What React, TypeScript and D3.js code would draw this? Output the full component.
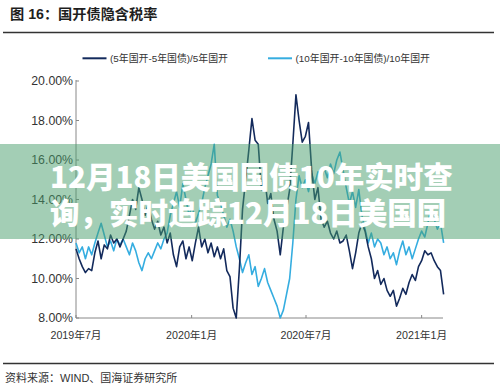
import React from "react";
import * as d3 from "d3";

const title = "图 16：国开债隐含税率";
const source = "资料来源：WIND、国海证券研究所";
const seriesNames = ["(5年国开-5年国债)/5年国开", "(10年国开-10年国债)/10年国开"];
const seriesColors = ["#132a5c", "#35ade0"];
const yTicks = [8, 10, 12, 14, 16, 18, 20];
const xTickDates = ["2019-07-01", "2020-01-01", "2020-07-01", "2021-01-01"];
const xTickLabels = ["2019年7月", "2020年1月", "2020年7月", "2021年1月"];
const startDate = "2019-07-01";
const endDate = "2021-02-04";
const stepDays = 5;
const bannerLines = ["12月18日美国国债10年实时查", "询，实时追踪12月18日美国国"];

// (5年国开-5年国债)/5年国开, %
const series5y = [
  11.5, 11.0, 10.6, 10.3, 10.5, 10.4, 11.3, 11.9, 11.0, 11.7,
  11.5, 12.2, 11.8, 12.0, 11.6, 12.0, 12.4, 13.2, 14.0, 13.5,
  14.6, 14.0, 13.2, 13.8, 13.0, 12.5, 12.9, 12.2, 12.6, 11.8,
  12.3, 11.2, 10.6, 11.6, 11.9, 11.0, 11.6, 10.9, 11.8, 12.6,
  11.6, 12.0, 11.3, 11.8, 11.1, 11.6, 11.0, 11.5, 10.4, 10.1,
  8.5, 8.0, 10.5, 13.5, 15.0, 16.5, 18.1, 17.0, 16.8, 14.5,
  15.2, 13.8, 14.3, 13.0, 12.4, 11.2, 12.6, 13.5, 14.5, 16.8,
  19.3, 18.0, 16.9, 17.2, 17.9, 15.5, 14.0, 14.6, 13.0, 12.6,
  12.9, 12.3, 12.0, 12.4, 11.8, 11.9, 12.2, 11.4, 10.5, 11.3,
  12.3, 12.8, 12.4, 11.6, 11.0, 10.0, 10.4, 9.7, 10.0, 9.4,
  9.1, 9.4, 8.6, 9.0, 9.5, 9.2, 9.8, 10.2, 9.9, 10.6,
  10.9, 11.4, 11.2, 11.3, 10.9, 10.6, 10.4, 9.2,
];

// (10年国开-10年国债)/10年国开, %
const series10y = [
  11.8, 11.3, 11.6, 11.0, 11.6, 11.2, 11.8, 12.3, 12.8, 12.2,
  11.6, 11.9, 11.4, 12.0, 11.7, 12.0, 11.6, 11.2, 11.8, 11.4,
  10.8, 10.4, 11.0, 11.3, 11.0, 11.4, 11.8, 11.5, 12.0, 12.3,
  13.2, 13.8, 14.4, 13.6, 14.8, 14.0, 13.2, 13.7, 12.8, 13.3,
  13.8, 14.6, 15.2, 15.8, 16.8, 14.2, 13.8, 13.2, 12.6, 13.0,
  12.4, 11.6, 11.0, 10.3, 10.8, 11.2, 10.2, 10.6, 9.6, 10.0,
  10.5, 9.8, 9.4, 9.0, 8.6, 8.0, 8.4, 9.2, 10.0, 11.8,
  14.0, 15.2, 14.6, 15.0, 14.4, 15.3, 14.8, 15.4, 14.9, 15.6,
  15.1, 15.8, 15.3, 16.0, 16.4, 15.5, 14.6, 13.8, 14.4, 13.6,
  14.5, 13.2, 12.5, 11.8, 12.3, 11.6, 12.0, 11.8, 11.2, 11.6,
  11.0, 11.3, 10.7, 11.4, 11.9, 11.2, 11.6, 11.0, 11.5, 12.0,
  12.4, 12.1, 12.8, 13.6, 13.0, 12.5, 12.8, 11.8,
];

const W = 500;
const H = 387;
const plotLeft = 76;
const plotRight = 443;
const plotTop = 81;
const plotBottom = 318;

const cjk = "'Liberation Sans', Arial, 'Noto Sans CJK SC', sans-serif";

export default function App() {
  const parse = d3.utcParse("%Y-%m-%d");
  const start = parse(startDate)!;
  const x = d3
    .scaleUtc()
    .domain([start, parse(endDate)!])
    .range([plotLeft, plotRight]);
  const y = d3.scaleLinear().domain([8, 20]).range([plotBottom, plotTop]);
  const dates = series5y.map((_, i) => d3.utcDay.offset(start, i * stepDays));
  const line = d3
    .line<number>()
    .x((_, i) => x(dates[i]))
    .y((d) => y(d))
    .curve(d3.curveLinear);
  const all = [series5y, series10y];

  return (
    <svg
      width={W}
      height={H}
      viewBox={`0 0 ${W} ${H}`}
      style={{ position: "absolute", left: 0, top: 0, background: "#fff" }}
    >
      <rect x={0} y={0} width={W} height={H} fill="#fff" />
      <text
        x={10}
        y={18.5}
        fontSize={14.2}
        fontWeight="bold"
        fill="#1e1e1e"
        fontFamily={cjk}
      >
        {title}
      </text>
      <line x1={3} x2={494} y1={32.5} y2={32.5} stroke="#333" strokeWidth={1.6} />

      {/* legend */}
      {seriesNames.map((name, k) => {
        const lx = k === 0 ? 82.5 : 268;
        return (
          <g key={name}>
            <line
              x1={lx}
              x2={lx + 24}
              y1={58.3}
              y2={58.3}
              stroke={seriesColors[k]}
              strokeWidth={2}
            />
            <text
              x={lx + 27.5}
              y={62}
              fontSize={9.9}
              fill="#333"
              fontFamily={cjk}
            >
              {name}
            </text>
          </g>
        );
      })}

      {/* axes */}
      <line x1={plotLeft} x2={plotLeft} y1={plotTop - 1} y2={plotBottom} stroke="#888" strokeWidth={1} />
      <line x1={plotLeft} x2={plotRight} y1={plotBottom} y2={plotBottom} stroke="#888" strokeWidth={1} />
      {yTicks.map((t) => (
        <g key={t}>
          <line x1={plotLeft} x2={plotLeft + 3} y1={y(t)} y2={y(t)} stroke="#888" />
          <text
            x={plotLeft - 3}
            y={y(t) + 4.3}
            textAnchor="end"
            fontSize={12.3}
            fill="#333"
            fontFamily={cjk}
          >
            {t.toFixed(2)}%
          </text>
        </g>
      ))}
      {xTickDates.map((d, k) => {
        const px = x(parse(d)!);
        return (
          <g key={d}>
            <line x1={px} x2={px} y1={plotBottom} y2={plotBottom - 3} stroke="#888" />
            <text
              x={px}
              y={338.5}
              textAnchor="middle"
              fontSize={10.7}
              fill="#333"
              fontFamily={cjk}
            >
              {xTickLabels[k]}
            </text>
          </g>
        );
      })}

      {/* series */}
      {[1, 0].map((k) => (
        <path
          key={k}
          d={line(all[k]) || ""}
          fill="none"
          stroke={seriesColors[k]}
          strokeWidth={1.6}
          strokeLinejoin="round"
        />
      ))}

      <line x1={3} x2={494} y1={363.5} y2={363.5} stroke="#333" strokeWidth={1.6} />
      <text x={5} y={382} fontSize={11} fill="#333" fontFamily={cjk}>
        {source}
      </text>

      {/* overlay banner */}
      <rect x={0} y={144} width={W} height={95} fill="rgba(72,158,108,0.5)" />
      {bannerLines.map((t, i) => (
        <text
          key={i}
          x={50}
          y={188 + i * 36}
          fontSize={29.5}
          fontWeight={900}
          fill="#fff"
          fontFamily="'Noto Sans CJK SC', sans-serif"
        >
          {t}
        </text>
      ))}
    </svg>
  );
}
